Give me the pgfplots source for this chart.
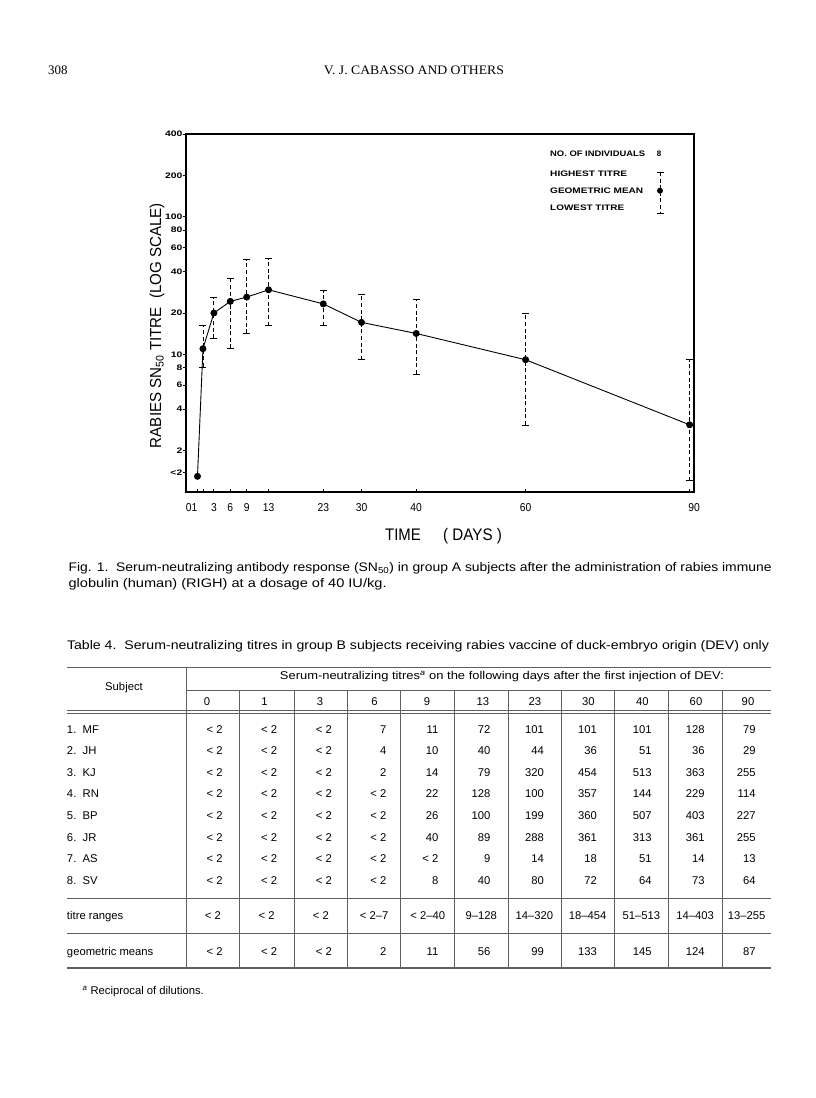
\documentclass[border=0pt]{standalone}
\usepackage{pgfplots}
\pgfplotsset{compat=1.18}
\usepackage{pgfplotstable}
\usepackage{graphicx}
\usepackage{fontspec}
\setmainfont{Liberation Sans}
\newfontfamily\seriffont{Liberation Serif}
\newfontfamily\widefont[FakeStretch=1.3]{Liberation Sans}
\newfontfamily\condfont[FakeStretch=0.9]{Liberation Sans}

% geometric means
\pgfplotstableread{
day mean
0 1.30
1 11.0
3 20.0
6 24.3
9 26.1
13 29.5
23 23.3
30 17.1
40 14.2
60 9.15
90 3.08
}\meanTab

% lowest and highest titres
\pgfplotstableread{
day lo hi
1 8.1 16.2
3 13.1 26.0
6 11.05 35.9
9 14.2 49.2
13 16.2 49.8
23 16.2 29.0
30 9.15 27.3
40 7.2 25.0
60 3.07 20.0
90 1.21 9.2
}\rangeTab

% the same ranges as vertical segments
\pgfplotstableread{
day v
1 8.1
1 16.2
nan nan
3 13.1
3 26.0
nan nan
6 11.05
6 35.9
nan nan
9 14.2
9 49.2
nan nan
13 16.2
13 49.8
nan nan
23 16.2
23 29.0
nan nan
30 9.15
30 27.3
nan nan
40 7.2
40 25.0
nan nan
60 3.07
60 20.0
nan nan
90 1.21
90 9.2
}\barTab

\newcommand{\fitw}[3]{\resizebox{#1bp}{\height}{\fontsize{#2}{#2}\selectfont #3}}
\def\rxlist{{222.8,277.4,332,386.6,438.6,490.6,544.2,597.2,651.8,704.8,755.8}}
\def\cxlist{{212.9,266.7,320.8,374.1,427.7,481.3,534.3,587.6,641.4,695.2,746.7}}
\def\hxlist{{207,264.4,320,374.6,427,482.8,534.8,588.4,642.4,696,748}}
\newcommand{\bodyrow}[3]{%
  \node[anchor=base west,inner sep=0] at (66.8,#1+4) {#2};
  \foreach \v [count=\i from 0] in {#3} {
    \pgfmathsetmacro\rx{\rxlist[\i]}
    \node[anchor=base east,inner sep=0] at (\rx,#1+4) {\v};
  }}
\newcommand{\centrow}[3]{%
  \node[anchor=base west,inner sep=0] at (66.8,#1+4) {#2};
  \foreach \v [count=\i from 0] in {#3} {
    \pgfmathsetmacro\cx{\cxlist[\i]}
    \node[anchor=base,inner sep=0] at (\cx,#1+4) {\v};
  }}

\begin{document}
\begin{tikzpicture}
\begin{scope}[x=1bp,y=-1bp]
\path[use as bounding box] (0,0) rectangle (816,1098);
\fill[white] (0,0) rectangle (816,1098);
% header
\node[anchor=base west,inner sep=0] at (48,74) {\seriffont\fontsize{13}{13}\selectfont 308};
\node[anchor=base,inner sep=0] at (414,74) {\fitw{180}{13}{\seriffont V. J. CABASSO AND OTHERS}};
% axis labels
\node[rotate=90,inner sep=0] at (157,325.5) {\fitw{245}{16}{RABIES SN\textsubscript{50} TITRE\ \ (LOG SCALE)}};
\node[anchor=base west,inner sep=0] at (385,540) {\fitw{35.7}{16.8}{\condfont TIME}};
\node[anchor=base west,inner sep=0] at (443,540) {\fitw{58.7}{16.8}{\condfont ( DAYS )}};
% legend
\begin{scope}[font=\bfseries\fontsize{8}{8}\selectfont]
\node[anchor=base west,inner sep=0] at (550,156) {\resizebox{95bp}{\height}{NO. OF INDIVIDUALS}};
\node[anchor=base,inner sep=0] at (659,156) {8};
\node[anchor=base west,inner sep=0] at (550,176) {\resizebox{77bp}{\height}{HIGHEST TITRE}};
\node[anchor=base west,inner sep=0] at (550,193.7) {\resizebox{93bp}{\height}{GEOMETRIC MEAN}};
\node[anchor=base west,inner sep=0] at (550,210) {\resizebox{74bp}{\height}{LOWEST TITRE}};
\end{scope}
\draw[line width=0.8bp, dash pattern=on 4bp off 2.6bp] (660,172) -- (660,213);
\draw[line width=0.9bp] (656.5,172) -- (663.5,172);
\draw[line width=0.9bp] (656.5,213.3) -- (663.5,213.3);
\fill (660,190.7) circle[radius=3];
% caption
\node[anchor=base west,inner sep=0] at (68.4,571.5) {\fitw{703}{12.5}{Fig. 1.\ \ Serum-neutralizing antibody response (SN\textsubscript{50}) in group A subjects after the administration of rabies immune}};
\node[anchor=base west,inner sep=0] at (68.4,587.5) {\fitw{318}{12.5}{globulin (human) (RIGH) at a dosage of 40 IU/kg.}};
% table title
\node[anchor=base west,inner sep=0] at (66.8,649.5) {\fitw{702}{12.5}{Table 4.\ \ Serum-neutralizing titres in group B subjects receiving rabies vaccine of duck-embryo origin (DEV) only}};
% table rules
\begin{scope}[gray!75!black]
\draw[line width=1bp] (66.8,667) -- (771.4,667);
\draw[line width=0.6bp] (186.4,690) -- (771.4,690);
\draw[line width=0.6bp] (66.8,710) -- (771.4,710);
\draw[line width=0.6bp] (66.8,713) -- (771.4,713);
\draw[line width=0.7bp] (66.8,898) -- (771.4,898);
\draw[line width=0.7bp] (66.8,933) -- (771.4,933);
\draw[line width=1.1bp] (66.8,968) -- (771.4,968);
\draw[line width=0.5bp] (186.4,667) -- (186.4,968);
\foreach \sx in {239.4,294,347.6,400.6,454.7,507.8,560.8,614.4,668.4,722}
  \draw[line width=0.5bp] (\sx,690) -- (\sx,968);
\end{scope}
\begin{scope}[font=\fontsize{11.3}{12}\selectfont]
\node[inner sep=0] at (124,688) {Subject};
\node[inner sep=0] at (502,677) {\resizebox{444bp}{\height}{Serum-neutralizing titres\textsuperscript{\textit{a}} on the following days after the first injection of DEV:}};
\foreach \d [count=\i from 0] in {0,1,3,6,9,13,23,30,40,60,90} {
  \pgfmathsetmacro\hx{\hxlist[\i]}
  \node[anchor=base,inner sep=0] at (\hx,705) {\d};
}
\bodyrow{729}{1.\ \ MF}{< 2,< 2,< 2,7,11,72,101,101,101,128,79}
\bodyrow{750.6}{2.\ \ JH}{< 2,< 2,< 2,4,10,40,44,36,51,36,29}
\bodyrow{772.2}{3.\ \ KJ}{< 2,< 2,< 2,2,14,79,320,454,513,363,255}
\bodyrow{793.8}{4.\ \ RN}{< 2,< 2,< 2,< 2,22,128,100,357,144,229,114}
\bodyrow{815.4}{5.\ \ BP}{< 2,< 2,< 2,< 2,26,100,199,360,507,403,227}
\bodyrow{837}{6.\ \ JR}{< 2,< 2,< 2,< 2,40,89,288,361,313,361,255}
\bodyrow{858.6}{7.\ \ AS}{< 2,< 2,< 2,< 2,< 2,9,14,18,51,14,13}
\bodyrow{880.2}{8.\ \ SV}{< 2,< 2,< 2,< 2,8,40,80,72,64,73,64}
\centrow{915}{titre ranges}{< 2,< 2,< 2,< 2--7,< 2--40,9--128,14--320,18--454,51--513,14--403,13--255}
\bodyrow{951}{geometric means}{< 2,< 2,< 2,2,11,56,99,133,145,124,87}
\node[anchor=base west,inner sep=0] at (82.4,994) {\textsuperscript{\textit{a}} Reciprocal of dilutions.};
\end{scope}
\end{scope}

\begin{axis}[
  at={(186bp,-492bp)}, anchor=south west,
  scale only axis, width=508bp, height=358bp,
  ymode=log, ymin=1, ymax=400,
  xmin=-2.1, xmax=90.8,
  axis line style={line width=1.1bp},
  xtick={0,1,3,6,9,13,23,30,40,60,90},
  xticklabels={\makebox[0pt][l]{\hspace*{-11.5bp}01},{},3,6,9,13,23,30,40,60,\makebox[0pt]{\hspace*{9bp}90}},
  ytick={1.38,2,4,6,8,10,20,40,60,80,100,200,400},
  yticklabels={<2,2,4,6,8,10,20,40,60,80,100,200,400},
  yminorticks=false,
  xtick pos=bottom, ytick pos=left,
  tick align=inside,
  major tick length=3.5bp,
  tick style={black, line width=0.8bp},
  y tick style={xshift=-3.5bp},
  xticklabel style={anchor=north, inner sep=0pt, yshift=-11bp, font=\condfont\fontsize{11.5}{12}\selectfont},
  yticklabel style={anchor=east, inner sep=0pt, xshift=-3.5bp, font=\widefont\bfseries\fontsize{8}{8}\selectfont},
  clip=false,
  unbounded coords=jump,
]
\addplot[black, line width=0.8bp, dash pattern=on 4bp off 2.6bp] table[x=day,y=v] {\barTab};
\addplot[black, only marks, mark=-, mark size=3.5bp, mark options={line width=0.9bp}] table[x=day,y=hi] {\rangeTab};
\addplot[black, only marks, mark=-, mark size=3.5bp, mark options={line width=0.9bp}] table[x=day,y=lo] {\rangeTab};
\addplot[black, line width=0.9bp, mark=*, mark size=3bp, mark options={fill=black}] table[x=day,y=mean] {\meanTab};
\end{axis}
\end{tikzpicture}
\end{document}
